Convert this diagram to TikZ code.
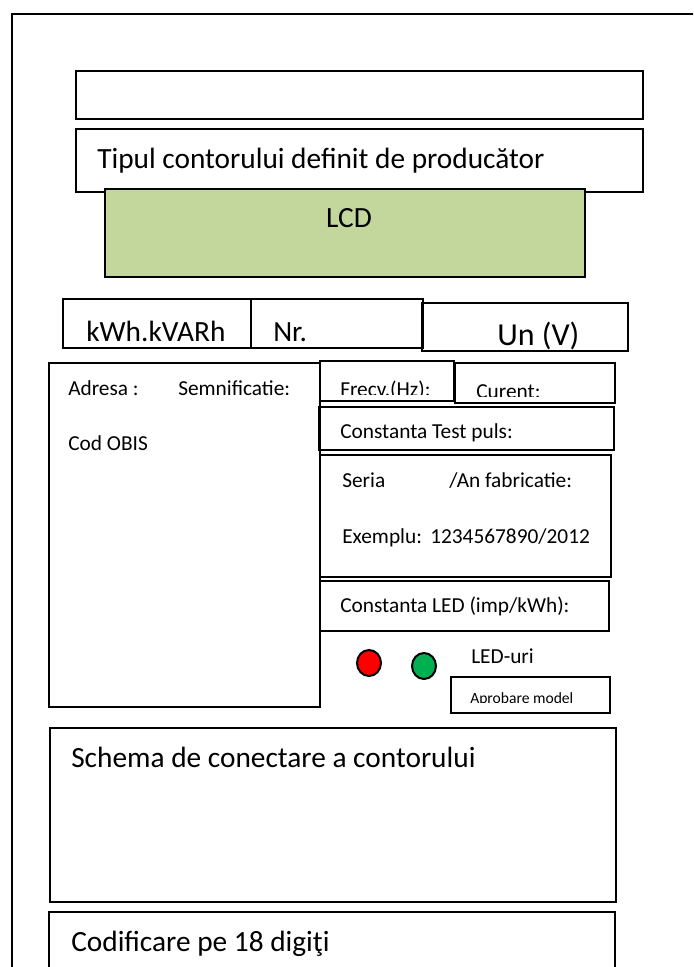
\documentclass[tikz,border=0pt]{standalone}
\usepackage{fontspec}
\setmainfont{Carlito}
\usetikzlibrary{positioning}
\definecolor{LcdGreen}{HTML}{C3D69B}
\definecolor{LedRed}{HTML}{FF0000}
\definecolor{LedGreen}{HTML}{00B050}

\begin{document}
\begin{tikzpicture}[x=0.75pt,y=-0.75pt,
  box/.style={draw,line width=1.5pt},
  bigtxt/.style={anchor=base west,inner sep=0pt,font=\fontsize{22}{26}\selectfont},
  midtxt/.style={anchor=base west,inner sep=0pt,font=\fontsize{16}{19}\selectfont},
  smalltxt/.style={anchor=base west,inner sep=0pt,font=\fontsize{11.7}{14}\selectfont}]
  \useasboundingbox (0,0) rectangle (693,967);
  \clip (0,0) rectangle (693,967);
  % outer plate, runs off the page on the right and bottom
  \draw[box] (12,1100) -- (12,14) -- (900,14);

  % header
  \draw[box] (76,71) rectangle (643,119);
  \draw[box] (76,129) rectangle (643,192);
  \node[bigtxt] (tip) at (97,168) {Tipul contorului definit de producător};
  \draw[box,fill=LcdGreen] (105,189) rectangle (585,277);
  \node[bigtxt,anchor=base] (lcd) at (349,227) {LCD};

  % units row
  \draw[box] (63,299) rectangle (251,348);
  \draw[box] (251,299) rectangle (423,348);
  \draw[box] (422,303) rectangle (628,351);
  \node[bigtxt] (kwh) at (86,341) {kWh.kVARh};
  \node[bigtxt] (nr) at (273,341) {Nr.};
  \node[bigtxt,font=\fontsize{24}{28}\selectfont] (un) at (497,345) {Un (V)};

  % OBIS list
  \draw[box] (49,363) rectangle (320,707);
  \node[midtxt] (adr) at (68,395) {Adresa :};
  \node[midtxt] (sem) at (178,395) {Semnificatie:};
  \node[midtxt] (obis) at (68,450) {Cod OBIS};

  % data fields
  \draw[box] (320,361) rectangle (454,401);
  \draw[box] (455,363) rectangle (615,403);
  \begin{scope}
    \clip (320,361) rectangle (454,394);
    \node[midtxt] (frecv) at (340,396) {Frecv.(Hz):};
  \end{scope}
  \begin{scope}
    \clip (455,363) rectangle (615,396);
    \node[midtxt] (cur) at (476,398) {Curent:};
  \end{scope}
  \draw[box,line width=2pt] (319,407) rectangle (614,450);
  \begin{scope}
    \clip (319,407) rectangle (614,442);
    \node[midtxt] (puls) at (340,438) {Constanta Test puls:};
  \end{scope}
  \draw[box,line width=2pt] (320,455) rectangle (611,577);
  \node[midtxt] (ser) at (342,487) {Seria};
  \node[midtxt] (an) at (449,487) {/An fabricatie:};
  \node[midtxt] (ex) at (342,543) {Exemplu:};
  \node[midtxt] (exnr) at (430,543) {1234567890/2012};
  \draw[box] (320,581) rectangle (609,631);
  \node[midtxt] (cled) at (340,612) {Constanta LED (imp/kWh):};

  % LEDs
  \draw[line width=1.5pt,fill=LedRed] (369,663) ellipse [x radius=9pt,y radius=9.75pt];
  \draw[line width=1.5pt,fill=LedGreen] (424,666) ellipse [x radius=9pt,y radius=9.75pt];
  \node[midtxt] (leds) at (471,663) {LED-uri};
  \draw[box] (451,677) rectangle (610,713);
  \begin{scope}
    \clip (451,677) rectangle (610,702);
    \node[smalltxt] (apr) at (470,703) {Aprobare model};
  \end{scope}

  % footer
  \draw[box] (50,728) rectangle (616,902);
  \node[bigtxt] (sch) at (71,767) {Schema de conectare a contorului};
  \draw[box] (49,912) rectangle (615,1000);
  \node[bigtxt] (cod) at (71,951) {Codificare pe 18 digiţi};
\end{tikzpicture}
\end{document}
